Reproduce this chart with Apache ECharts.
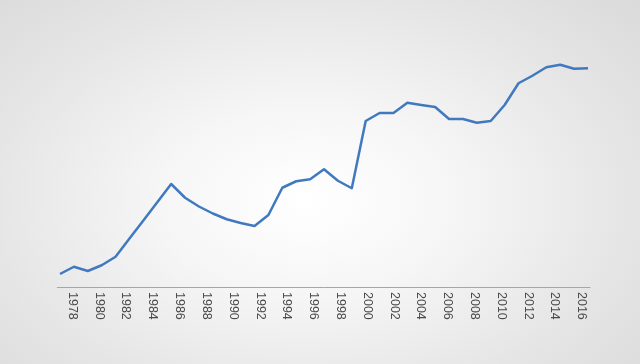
<!DOCTYPE html>
<html>
<head>
<meta charset="utf-8">
<script src="https://cdn.jsdelivr.net/npm/echarts@6/dist/echarts.min.js"></script>
<style>
  html, body { margin: 0; padding: 0; }
  #chart {
    width: 640px; height: 364px;
    background: radial-gradient(ellipse 75% 85% at 48% 55%, #ffffff 0%, #f6f6f6 30%, #e6e6e6 65%, #d8d8d8 100%);
  }
</style>
</head>
<body>
<div id="chart"></div>
<script>
const years = [];
for (let y = 1978; y <= 2016; y++) years.push(String(y));

const values = [
  5.2, 8.1, 6.4, 8.7, 12.1, 19.4, 26.6, 33.9, 41.2, 35.7,
  32.2, 29.4, 27.1, 25.6, 24.4, 28.8, 39.7, 42.3, 43.1, 47.1,
  42.5, 39.5, 66.4, 69.6, 69.6, 73.7, 72.8, 72.0, 67.2, 67.2,
  65.7, 66.4, 72.8, 81.5, 84.5, 87.9, 88.9, 87.3, 87.5
];

const chart = echarts.init(document.getElementById('chart'), null, { renderer: 'canvas' });
chart.setOption({
  backgroundColor: 'transparent',
  animation: false,
  grid: [
    { left: 60, right: 52, top: 37, bottom: 77 },
    { left: 72.3, right: 58.3, top: 37, bottom: 77 },
    { left: 57.3, right: 50, top: 37, bottom: 77 }
  ],
  xAxis: [
    {
      gridIndex: 0, type: 'category', data: years, boundaryGap: false,
      axisLine: { show: false }, axisTick: { show: false }, axisLabel: { show: false },
      splitLine: { show: false }
    },
    {
      gridIndex: 1, type: 'category', data: years, boundaryGap: false,
      axisLine: { show: false }, axisTick: { show: false }, splitLine: { show: false },
      axisLabel: {
        show: true, interval: 1, rotate: -90, margin: 5,
        color: '#4a4a4a', fontSize: 12.5, fontFamily: 'Liberation Sans, Arial, sans-serif'
      }
    },
    {
      gridIndex: 2, type: 'category', data: years, boundaryGap: false,
      axisLine: { show: true, lineStyle: { color: '#a6a6a6', width: 1 } },
      axisTick: { show: false }, axisLabel: { show: false }, splitLine: { show: false }
    }
  ],
  yAxis: [
    { gridIndex: 0, type: 'value', min: 0, max: 100, show: false, splitLine: { show: false } },
    { gridIndex: 1, type: 'value', min: 0, max: 100, show: false, splitLine: { show: false } },
    { gridIndex: 2, type: 'value', min: 0, max: 100, show: false, splitLine: { show: false } }
  ],
  series: [
    {
      type: 'line', xAxisIndex: 0, yAxisIndex: 0, data: values,
      showSymbol: false, symbol: 'none',
      lineStyle: { color: '#4179bf', width: 2.5, join: 'round' }
    }
  ]
});
</script>
</body>
</html>
